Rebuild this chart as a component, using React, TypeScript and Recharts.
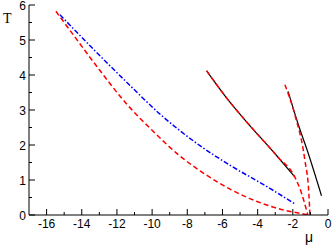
import React from 'react';
import { LineChart, Line, XAxis, YAxis } from 'recharts';

// Tick values
const xTicks = [-16, -15, -14, -13, -12, -11, -10, -9, -8, -7, -6, -5, -4, -3, -2, -1, 0];
const yTicks = [0, 0.5, 1, 1.5, 2, 2.5, 3, 3.5, 4, 4.5, 5, 5.5, 6];

// Series (mu, T)
const redOuter = [
  { mu: -15.47, T: 5.82 },
  { mu: -14.5, T: 5.16 },
  { mu: -13.0, T: 4.15 },
  { mu: -11.5, T: 3.2 },
  { mu: -10.0, T: 2.42 },
  { mu: -8.5, T: 1.72 },
  { mu: -7.0, T: 1.17 },
  { mu: -5.5, T: 0.72 },
  { mu: -4.0, T: 0.38 },
  { mu: -2.5, T: 0.14 },
  { mu: -1.6, T: 0.05 },
  { mu: -1.13, T: 0 },
];

const blueDashDot = [
  { mu: -15.24, T: 5.72 },
  { mu: -13.5, T: 4.82 },
  { mu: -11.5, T: 3.82 },
  { mu: -9.5, T: 2.86 },
  { mu: -7.5, T: 2.06 },
  { mu: -5.5, T: 1.4 },
  { mu: -3.5, T: 0.82 },
  { mu: -1.89, T: 0.32 },
];

const blackLeft = [
  { mu: -6.9, T: 4.12 },
  { mu: -5.68, T: 3.29 },
  { mu: -4.73, T: 2.72 },
  { mu: -2.84, T: 1.65 },
  { mu: -1.89, T: 1.09 },
];

const redMiddle = [
  { mu: -6.9, T: 4.12 },
  { mu: -5.68, T: 3.29 },
  { mu: -4.73, T: 2.72 },
  { mu: -2.84, T: 1.65 },
  { mu: -1.89, T: 1.09 },
  { mu: -1.51, T: 0.63 },
  { mu: -1.15, T: 0 },
];

const blackRight = [
  { mu: -2.27, T: 3.53 },
  { mu: -1.7, T: 2.6 },
  { mu: -1.13, T: 1.77 },
  { mu: -0.37, T: 0.55 },
];

const redRight = [
  { mu: -2.45, T: 3.72 },
  { mu: -1.89, T: 2.87 },
  { mu: -1.32, T: 1.58 },
  { mu: -1.09, T: 0.63 },
  { mu: -1.03, T: 0 },
];

const FONT = '"Liberation Sans", Arial, Helvetica, sans-serif';

const isMajorX = (v: number) => Math.abs(v % 2) < 1e-9;
const isMajorY = (v: number) => Math.abs(v % 1) < 1e-9;

const BottomTick = (props: any) => {
  const { x, y, payload } = props;
  const v = payload.value;
  const major = isMajorX(v);
  return (
    <g>
      <line x1={x} x2={x} y1={y} y2={y - (major ? 6 : 3)} stroke="#000" strokeWidth={1} />
      {major && (
        <text x={x} y={y + 13} textAnchor="middle" fontSize={12} fontFamily={FONT} fill="#000">
          {v}
        </text>
      )}
    </g>
  );
};

const TopTick = (props: any) => {
  const { x, y, payload } = props;
  const major = isMajorX(payload.value);
  return <line x1={x} x2={x} y1={y} y2={y + (major ? 6 : 3)} stroke="#000" strokeWidth={1} />;
};

const LeftTick = (props: any) => {
  const { x, y, payload } = props;
  const v = payload.value;
  const major = isMajorY(v);
  return (
    <g>
      <line x1={x} x2={x + (major ? 6 : 3)} y1={y} y2={y} stroke="#000" strokeWidth={1} />
      {major && (
        <text x={x - 3} y={y + 4.5} textAnchor="end" fontSize={12} fontFamily={FONT} fill="#000">
          {v}
        </text>
      )}
    </g>
  );
};

const RightTick = (props: any) => {
  const { x, y, payload } = props;
  const major = isMajorY(payload.value);
  return <line x1={x} x2={x - (major ? 6 : 3)} y1={y} y2={y} stroke="#000" strokeWidth={1} />;
};

export default function App() {
  return (
    <div style={{ position: 'absolute', left: 0, top: 0, width: 332, height: 246, background: '#fff' }}>
      <LineChart width={332} height={246} margin={{ top: 5, right: 4, left: 0, bottom: 0 }}>
        <XAxis
          dataKey="mu"
          type="number"
          domain={[-17, 0]}
          ticks={xTicks}
          interval={0}
          height={31}
          tickSize={0}
          tickMargin={0}
          tickLine={false}
          tick={<BottomTick />}
          axisLine={{ stroke: '#000' }}
          allowDataOverflow
        />
        <XAxis
          xAxisId="top"
          orientation="top"
          type="number"
          domain={[-17, 0]}
          ticks={xTicks}
          interval={0}
          height={0}
          tickSize={0}
          tickMargin={0}
          tickLine={false}
          tick={<TopTick />}
          axisLine={{ stroke: '#000' }}
        />
        <YAxis
          type="number"
          domain={[0, 6]}
          ticks={yTicks}
          interval={0}
          width={29}
          tickSize={0}
          tickMargin={0}
          tickLine={false}
          tick={<LeftTick />}
          axisLine={{ stroke: '#000' }}
          allowDataOverflow
        />
        <YAxis
          yAxisId="right"
          orientation="right"
          type="number"
          domain={[0, 6]}
          ticks={yTicks}
          interval={0}
          width={0}
          tickSize={0}
          tickMargin={0}
          tickLine={false}
          tick={<RightTick />}
          axisLine={{ stroke: '#000' }}
        />
        <Line data={blueDashDot} dataKey="T" type="monotone" stroke="#0000ff" strokeWidth={1.5}
          strokeDasharray="5 2 1.5 2" dot={false} activeDot={false} isAnimationActive={false} />
        <Line data={redOuter} dataKey="T" type="monotone" stroke="#ff0000" strokeWidth={1.5}
          strokeDasharray="5 3" dot={false} activeDot={false} isAnimationActive={false} />
        <Line data={blackLeft} dataKey="T" type="monotone" stroke="#000000" strokeWidth={1.2}
          dot={false} activeDot={false} isAnimationActive={false} />
        <Line data={redMiddle} dataKey="T" type="monotone" stroke="#ff0000" strokeWidth={1.5}
          strokeDasharray="5 3" dot={false} activeDot={false} isAnimationActive={false} />
        <Line data={blackRight} dataKey="T" type="monotone" stroke="#000000" strokeWidth={1.2}
          dot={false} activeDot={false} isAnimationActive={false} />
        <Line data={redRight} dataKey="T" type="monotone" stroke="#ff0000" strokeWidth={1.5}
          strokeDasharray="5 3" dot={false} activeDot={false} isAnimationActive={false} />
      </LineChart>
      <div style={{ position: 'absolute', left: 3, top: 12, fontFamily: '"Liberation Serif", "Times New Roman", serif', fontSize: 14, lineHeight: '14px', color: '#000' }}>T</div>
      <div style={{ position: 'absolute', left: 305, top: 230, fontFamily: '"Liberation Sans", Arial, sans-serif', fontSize: 14, lineHeight: '14px', color: '#000' }}>μ</div>
    </div>
  );
}
